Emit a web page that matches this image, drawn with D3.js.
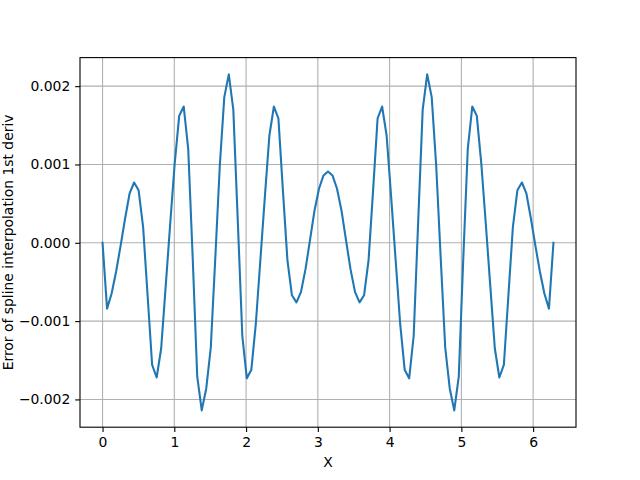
<!DOCTYPE html>
<html><head><meta charset="utf-8">
<script src="https://cdn.jsdelivr.net/npm/d3@7"></script>
<style>body{margin:0;background:#fff}svg{display:block}text{font-family:"DejaVu Sans",sans-serif;fill:#000}</style>
</head><body><svg id="c" width="640" height="480"></svg>
<script>
// 101 samples, x_k = 2*pi*k/100
const N = 101;
const errValues = [
 0, -0.00084, -0.00065, -0.00037, -0.00004, 0.00031, 0.00063, 0.00077, 0.00067, 0.00020,
 -0.00068, -0.00156, -0.00172, -0.00135, -0.00056, 0.00024, 0.00101, 0.00162, 0.00174, 0.00120,
 -0.00020, -0.00171, -0.00214, -0.00186, -0.00134, -0.00020, 0.00098, 0.00186, 0.00215, 0.00170,
 0.00027, -0.00119, -0.00173, -0.00162, -0.00103, -0.00022, 0.00059, 0.00137, 0.00174, 0.00159,
 0.00067, -0.00022, -0.00067, -0.00076, -0.00063, -0.00034, 0.00003, 0.00041, 0.00069, 0.00086,
 0.00091,
 0.00086, 0.00069, 0.00041, 0.00003, -0.00034, -0.00063, -0.00076, -0.00067, -0.00022, 0.00067,
 0.00159, 0.00174, 0.00137, 0.00059, -0.00022, -0.00103, -0.00162, -0.00173, -0.00119, 0.00027,
 0.00170, 0.00215, 0.00186, 0.00098, -0.00020, -0.00134, -0.00186, -0.00214, -0.00171, -0.00020,
 0.00120, 0.00174, 0.00162, 0.00101, 0.00024, -0.00056, -0.00135, -0.00172, -0.00156, -0.00068,
 0.00020, 0.00067, 0.00077, 0.00063, 0.00031, -0.00004, -0.00037, -0.00065, -0.00084, 0
];
const xValues = d3.range(N).map(k => 2 * Math.PI * k / (N - 1));
const xTicks = [0, 1, 2, 3, 4, 5, 6];
const yTicks = [-0.002, -0.001, 0, 0.001, 0.002];
const xLabel = "X";
const yLabel = "Error of spline interpolation 1st deriv";

const L = 80, T = 57.6, W = 496, H = 369.6;
const svg = d3.select("#c");
const xe = d3.extent(xValues), ye = d3.extent(errValues);
const xp = (xe[1]-xe[0])*0.05, yp = (ye[1]-ye[0])*0.05;
const x = d3.scaleLinear().domain([xe[0]-xp, xe[1]+xp]).range([L, L+W]);
const y = d3.scaleLinear().domain([ye[0]-yp, ye[1]+yp]).range([T+H, T]);

const g = svg.append("g");
// grid
g.selectAll(".gx").data(xTicks).join("line")
  .attr("x1", d=>x(d)).attr("x2", d=>x(d)).attr("y1", T).attr("y2", T+H)
  .attr("stroke", "#b0b0b0").attr("stroke-width", 1.1);
g.selectAll(".gy").data(yTicks).join("line").attr("class","gy")
  .attr("y1", d=>y(d)).attr("y2", d=>y(d)).attr("x1", L).attr("x2", L+W)
  .attr("stroke", "#b0b0b0").attr("stroke-width", 1.1);

// line
svg.append("path").datum(xValues.map((v,i)=>[v, errValues[i]]))
  .attr("fill","none").attr("stroke","#1f77b4").attr("stroke-width",2.08)
  .attr("stroke-linejoin","round").attr("stroke-linecap","square")
  .attr("d", d3.line().x(d=>x(d[0])).y(d=>y(d[1])));

// axes
const fmtY = d => (d<0 ? "\u2212" : "") + Math.abs(d).toFixed(3);
const xa = svg.append("g").attr("transform", `translate(0,${T+H})`)
  .call(d3.axisBottom(x).tickValues(xTicks).tickSize(4.86).tickPadding(4.86).tickFormat(d3.format("d")));
const ya = svg.append("g").attr("transform", `translate(${L},0)`)
  .call(d3.axisLeft(y).tickValues(yTicks).tickSize(4.86).tickPadding(4.86).tickFormat(fmtY));
[xa, ya].forEach(a => {
  a.select(".domain").remove();
  a.selectAll(".tick line").attr("stroke","#000").attr("stroke-width",1.1);
  a.selectAll(".tick text").attr("font-size","13.9px").attr("font-family","DejaVu Sans").attr("fill","#000");
});
// frame
svg.append("rect").attr("x", L).attr("y", T).attr("width", W).attr("height", H)
  .attr("fill","none").attr("stroke","#000").attr("stroke-width",1.1);

svg.append("text").attr("x", L+W/2).attr("y", 467).attr("text-anchor","middle")
  .attr("font-size","13.9px").text(xLabel);
svg.append("text").attr("transform", `translate(8,${T+H/2}) rotate(-90)`)
  .attr("text-anchor","middle").attr("dominant-baseline","central")
  .attr("font-size","13.9px").text(yLabel);
</script></body></html>
